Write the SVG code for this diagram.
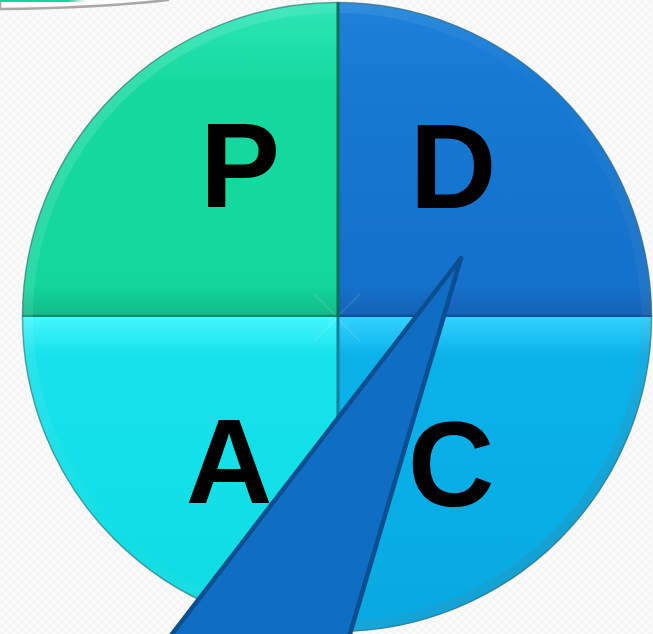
<svg xmlns="http://www.w3.org/2000/svg" width="653" height="634" viewBox="0 0 653 634">
  <defs>
    <pattern id="bgpat" width="8" height="8" patternUnits="userSpaceOnUse">
      <rect width="8" height="8" fill="#fbfbfb"/>
      <rect width="4" height="4" fill="#f5f5f5"/>
      <rect x="4" y="4" width="4" height="4" fill="#f5f5f5"/>
    </pattern>
    <linearGradient id="gP" x1="0" y1="0" x2="0" y2="1">
      <stop offset="0" stop-color="#2ee6b6"/>
      <stop offset="0.25" stop-color="#15da9f"/>
      <stop offset="0.9" stop-color="#13d69d"/>
      <stop offset="1" stop-color="#10b985"/>
    </linearGradient>
    <linearGradient id="gD" x1="0" y1="0" x2="0" y2="1">
      <stop offset="0" stop-color="#1e82da"/>
      <stop offset="0.25" stop-color="#1679d2"/>
      <stop offset="0.9" stop-color="#1571cb"/>
      <stop offset="1" stop-color="#1362b6"/>
    </linearGradient>
    <linearGradient id="gA" x1="0" y1="0" x2="0" y2="1">
      <stop offset="0" stop-color="#45f6ff"/>
      <stop offset="0.12" stop-color="#17e2ea"/>
      <stop offset="1" stop-color="#0fdce2"/>
    </linearGradient>
    <linearGradient id="gC" x1="0" y1="0" x2="0" y2="1">
      <stop offset="0" stop-color="#33d2ff"/>
      <stop offset="0.12" stop-color="#0bb2ea"/>
      <stop offset="1" stop-color="#08a9e2"/>
    </linearGradient>
    <linearGradient id="band" x1="0" y1="0" x2="1" y2="0">
      <stop offset="0" stop-color="#13d69d"/>
      <stop offset="0.8" stop-color="#13d69d"/>
      <stop offset="1" stop-color="#13d69d" stop-opacity="0"/>
    </linearGradient>
    <linearGradient id="rim" x1="0" y1="0" x2="1" y2="1">
      <stop offset="0" stop-color="#ffffff" stop-opacity="0.18"/>
      <stop offset="0.5" stop-color="#ffffff" stop-opacity="0"/>
      <stop offset="1" stop-color="#00203a" stop-opacity="0.22"/>
    </linearGradient>
    <clipPath id="circ"><circle cx="337" cy="317" r="315"/></clipPath>
  </defs>
  <style>
    .lbl { font-family: "Liberation Sans", Arial, sans-serif; font-weight: bold; font-size: 120px; fill: #000; text-anchor: middle; }
    .bev { fill: none; stroke: #ffffff; stroke-opacity: 0.1; stroke-width: 2; }
  </style>

  <rect width="653" height="634" fill="url(#bgpat)"/>

  <g id="corner-card">
    <path d="M0,-10 L175,-10 L168,0 Q100,8 0,9 Z" fill="#fbfbfb" stroke="#a8a8a8" stroke-width="2.5"/>
    <rect x="0" y="0" width="85" height="2" fill="url(#band)"/>
  </g>

  <g id="wheel" clip-path="url(#circ)">
    <g id="P">
      <path d="M337,317 L22,317 A315,315 0 0 1 337,2 Z" fill="url(#gP)"/>
      <path d="M337,317 L314,294" class="bev"/>
      <line x1="22" y1="316" x2="337" y2="316" stroke="#0c8e69" stroke-width="2.5"/>
      <text class="lbl" x="240" y="207">P</text>
    </g>
    <g id="D">
      <path d="M337,317 L337,2 A315,315 0 0 1 652,317 Z" fill="url(#gD)"/>
      <path d="M337,317 L360,294" class="bev"/>
      <line x1="337" y1="316" x2="652" y2="316" stroke="#0f4f98" stroke-width="2.5"/>
      <text class="lbl" x="453" y="208">D</text>
    </g>
    <g id="A">
      <path d="M337,317 L337,632 A315,315 0 0 1 22,317 Z" fill="url(#gA)"/>
      <path d="M337,318 L314,341" class="bev"/>
      <text class="lbl" x="229" y="503">A</text>
    </g>
    <g id="C">
      <path d="M337,317 L652,317 A315,315 0 0 1 337,632 Z" fill="url(#gC)"/>
      <path d="M337,318 L360,341" class="bev"/>
      <text class="lbl" x="451" y="506">C</text>
    </g>
    <circle cx="337" cy="317" r="315" fill="none" stroke="url(#rim)" stroke-width="22"/>
    <line x1="338" y1="2" x2="338" y2="317" stroke="#0b6f55" stroke-width="3"/>
    <line x1="338" y1="317" x2="338" y2="632" stroke="#0a7f9a" stroke-width="3"/>
  </g>
  <circle cx="337" cy="317" r="314.5" fill="none" stroke="#3d6f78" stroke-opacity="0.6" stroke-width="1.5"/>

  <g id="connectors">
    <polygon id="callout" points="461,258 172,634 140,675 338,675 350,634" fill="#0f6dc4" stroke="#0b4f91" stroke-width="4.5" stroke-linejoin="round"/>
  </g>
</svg>
